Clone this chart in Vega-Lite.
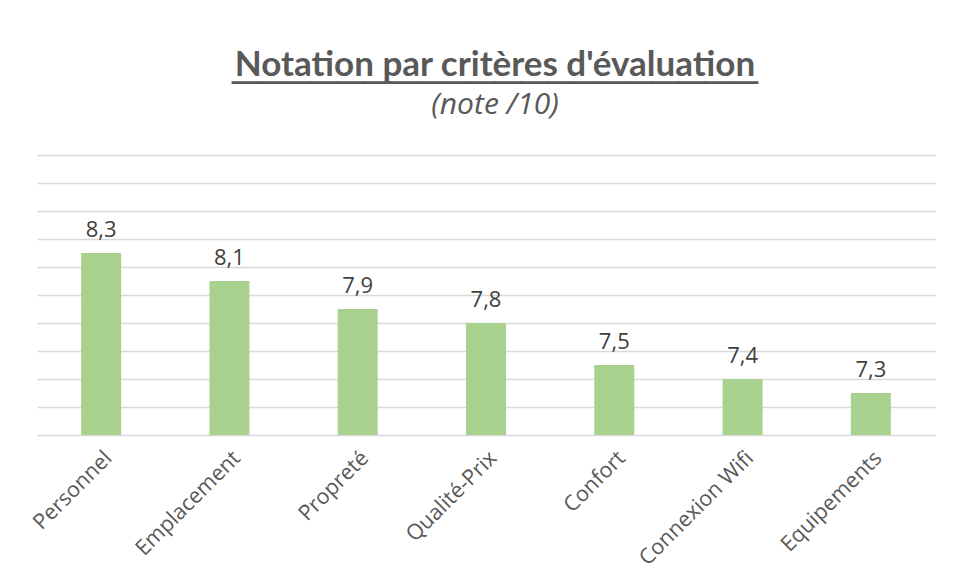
{
  "$schema": "https://vega.github.io/schema/vega-lite/v6.json",
  "width": 898,
  "height": 280,
  "autosize": {"type": "none"},
  "padding": {"left": 37, "top": 155, "right": 23, "bottom": 141},
  "background": "white",
  "title": {
    "text": ["Notation par critères d'évaluation", "────────────────────"],
    "subtitle": "(note /10)",
    "anchor": "middle",
    "dx": 9,
    "offset": 35,
    "lineHeight": 17,
    "font": "Lato, DejaVu Sans Mono",
    "fontSize": 35,
    "fontWeight": "bold",
    "color": "#595959",
    "subtitleFont": "Open Sans",
    "subtitleFontStyle": "italic",
    "subtitleFontSize": 30,
    "subtitleColor": "#595959",
    "subtitlePadding": -10
  },
  "config": {
    "view": {"stroke": null},
    "locale": {"number": {"decimal": ",", "thousands": " ", "grouping": [3], "currency": ["", " €"]}}
  },
  "data": {
    "values": [
      {"critere": "Personnel", "note": 8.3},
      {"critere": "Emplacement", "note": 8.1},
      {"critere": "Propreté", "note": 7.9},
      {"critere": "Qualité-Prix", "note": 7.8},
      {"critere": "Confort", "note": 7.5},
      {"critere": "Connexion Wifi", "note": 7.4},
      {"critere": "Equipements", "note": 7.3}
    ]
  },
  "encoding": {
    "x": {
      "field": "critere",
      "type": "nominal",
      "sort": null,
      "scale": {"paddingInner": 0, "paddingOuter": 0},
      "axis": {
        "title": null,
        "labelAngle": -45,
        "labelFont": "Open Sans",
        "labelFontSize": 21.5,
        "labelColor": "#595959",
        "labelPadding": 12,
        "ticks": false,
        "domainColor": "#d9d9d9",
        "domainWidth": 1.5,
        "grid": false
      }
    },
    "y": {
      "field": "note",
      "type": "quantitative",
      "scale": {"domain": [7, 9], "zero": false, "nice": false},
      "axis": {
        "title": null,
        "labels": false,
        "ticks": false,
        "domain": false,
        "values": [7.2, 7.4, 7.6, 7.8, 8, 8.2, 8.4, 8.6, 8.8, 9],
        "gridColor": "#d9d9d9",
        "gridWidth": 1.5
      }
    }
  },
  "layer": [
    {
      "mark": {"type": "bar", "width": 40, "color": "#a9d18e"},
      "encoding": {"y2": {"datum": 7}}
    },
    {
      "mark": {"type": "text", "baseline": "alphabetic", "dy": -16, "font": "Open Sans", "fontSize": 22, "color": "#404040"},
      "encoding": {"text": {"field": "note", "type": "quantitative", "format": ".1f"}}
    }
  ]
}
